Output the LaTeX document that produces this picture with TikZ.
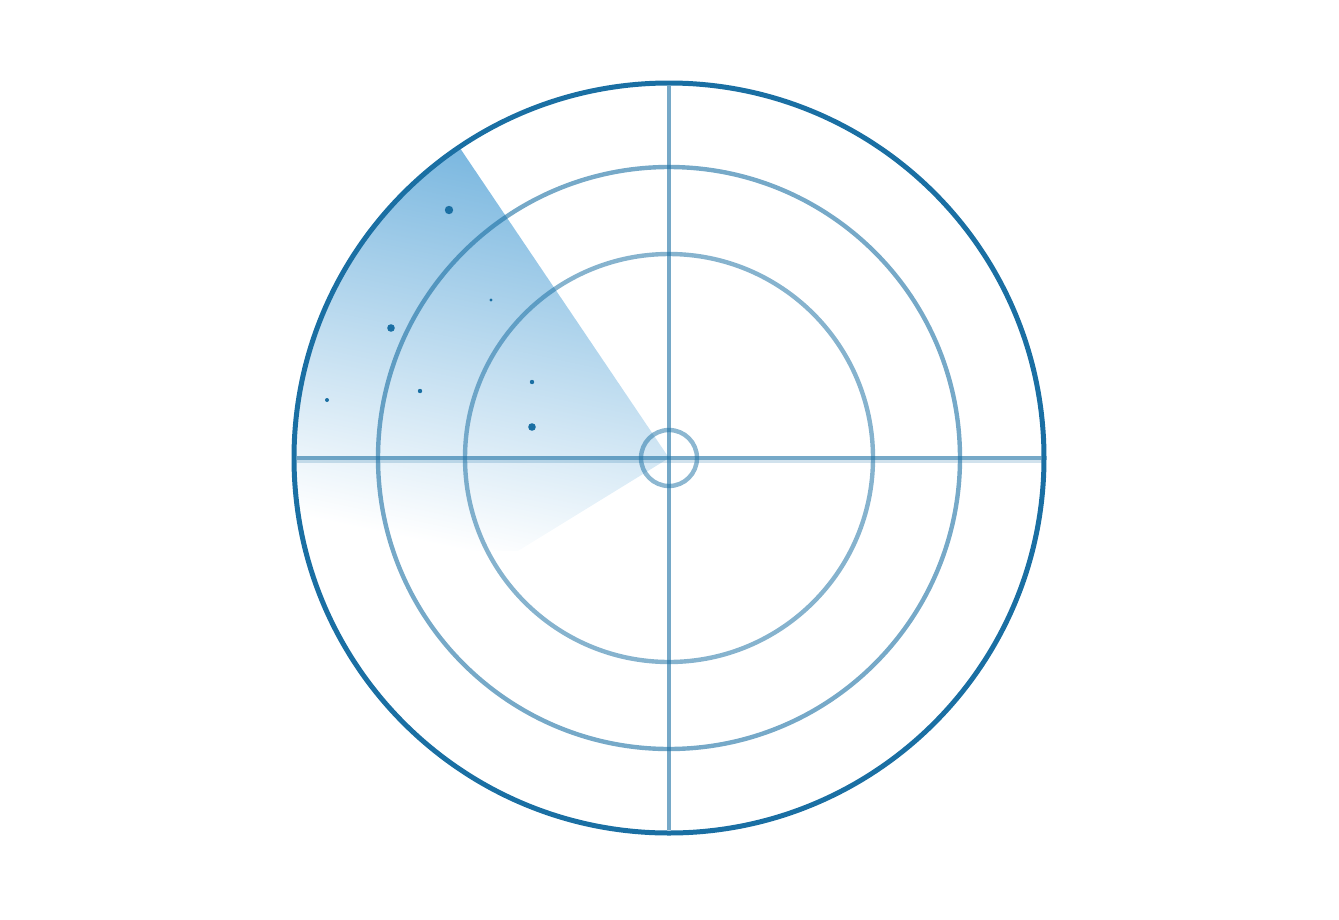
\documentclass[tikz,border=0pt]{standalone}
\usetikzlibrary{calc}
\definecolor{radar}{HTML}{1A6FA3}
\definecolor{sweep}{HTML}{74B4DE}
\tikzset{
  ring/.style={draw=radar,line width=#1},
  faint/.style={draw=radar,draw opacity=#1},
  blip/.style={fill=radar,draw=none}
}
\begin{document}
\begin{tikzpicture}[x=1pt,y=-1pt]
\useasboundingbox (0,0) rectangle (1339,919);
\coordinate (c) at (669,458);
% sweep sector
\begin{scope}
\clip (c) circle (375);
\clip (c) -- ($(c)+(236:400)$) arc[start angle=236,end angle=148.4,radius=400] -- cycle;
\shade[top color=sweep, bottom color=white, shading angle=-12] (270,138) rectangle (700,550);
\end{scope}
% rings
\draw[ring=5pt] (c) circle (375);
\draw[faint=0.6,line width=4.4pt] (c) circle (291);
\draw[faint=0.53,line width=4.4pt] (c) circle (204);
% cross
\coordinate (l) at (297,458);
\coordinate (r) at (1043,458);
\coordinate (t) at (669,86);
\coordinate (b) at (669,830);
\draw[faint=0.2,line width=3pt] ($(l)+(0,3.8)$) -- ($(r)+(0,3.8)$);
\draw[faint=0.6,line width=4pt] (l) -- (r);
\draw[faint=0.6,line width=4.4pt] (t) -- (b);
\draw[faint=0.5,line width=4.4pt] (c) circle (28);
% blips
\fill[blip] (449,210) circle (4.2);
\fill[blip] (491,300) circle (1.7);
\fill[blip] (391,328) circle (3.8);
\fill[blip] (420,391) circle (2.2);
\fill[blip] (532,382) circle (2.2);
\fill[blip] (327,400) circle (2);
\fill[blip] (532,427) circle (3.8);
\end{tikzpicture}
\end{document}
